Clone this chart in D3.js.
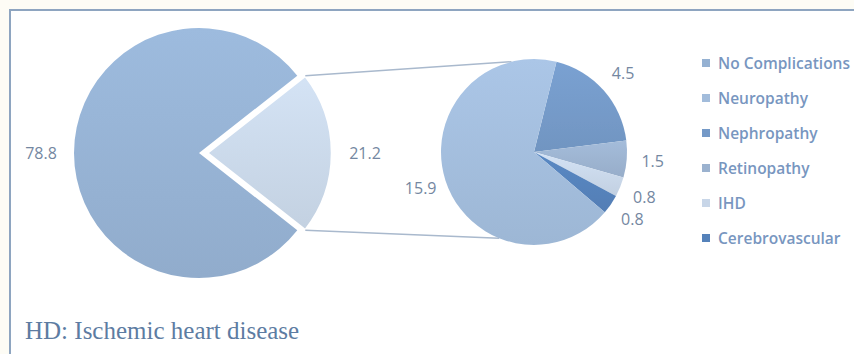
<!DOCTYPE html>
<html>
<head>
<meta charset="utf-8">
<script src="https://cdn.jsdelivr.net/npm/d3@7"></script>
<style>
  html, body { margin: 0; padding: 0; background: #fdfcf5; }
  svg { display: block; }
</style>
</head>
<body>
<div id="chart"></div>
<script>
// primary pie: share with / without complications
const primaryLabels = ["No Complications", "Complications"];
const primaryValues = [78.8, 21.2];

// secondary pie: breakdown of the complications slice (clockwise from top-right)
const secondaryLabels = ["Nephropathy", "Retinopathy", "IHD", "Cerebrovascular", "Neuropathy"];
const secondaryValues = [4.5, 1.5, 0.8, 0.8, 15.9];

const legendLabels = ["No Complications", "Neuropathy", "Nephropathy", "Retinopathy", "IHD", "Cerebrovascular"];
const footnote = "HD: Ischemic heart disease";

const width = 854, height = 354;

const color = d3.scaleOrdinal()
    .domain(["No Complications", "Complications", "Neuropathy", "Nephropathy", "Retinopathy", "IHD", "Cerebrovascular"])
    .range(["#95b1d2", "#c9d7e8", "#a2bcdb", "#7499c7", "#9bb2cf", "#c8d6e8", "#5582ba"]);

const svg = d3.select("#chart")
    .append("svg")
    .attr("width", width)
    .attr("height", height);

const defs = svg.append("defs");

defs.append("filter")
    .attr("id", "soft")
    .append("feGaussianBlur")
    .attr("stdDeviation", 0.7);

// gentle top-to-bottom shading like the original
color.domain().forEach((k, i) => {
    const c = color(k);
    const g = defs.append("linearGradient")
        .attr("id", "grad" + i)
        .attr("x1", 0).attr("y1", 0).attr("x2", 0).attr("y2", 1);
    g.append("stop").attr("offset", "0%").attr("stop-color", d3.color(c).brighter(0.15));
    g.append("stop").attr("offset", "100%").attr("stop-color", d3.color(c).darker(0.08));
});
const fill = k => `url(#grad${color.domain().indexOf(k)})`;

// frame
svg.append("rect")
    .attr("x", 10).attr("y", 10)
    .attr("width", width + 20).attr("height", height + 20)
    .attr("fill", "#ffffff")
    .attr("stroke", "#8ea5c0")
    .attr("stroke-width", 2);

// ---- primary pie
const pc = { x: 199, y: 153 }, pr = 125, explode = 8;
const primaryTotal = d3.sum(primaryValues);
const pStart = Math.PI / 2 + Math.PI * primaryValues[1] / primaryTotal;

const pie1 = d3.pie().sort(null)
    .startAngle(pStart).endAngle(pStart + 2 * Math.PI);
const arcs1 = pie1(primaryValues).map((a, i) => Object.assign(a, { label: primaryLabels[i] }));

const arc1 = d3.arc().innerRadius(0).outerRadius(pr);

const gPie1 = svg.append("g")
    .attr("transform", `translate(${pc.x},${pc.y})`)
    .attr("filter", "url(#soft)");

const offset = a => {
    if (a.label !== "Complications") return [0, 0];
    const m = (a.startAngle + a.endAngle) / 2;
    return [Math.sin(m) * explode, -Math.cos(m) * explode];
};

gPie1.selectAll("path")
    .data(arcs1)
    .enter().append("path")
    .attr("d", arc1)
    .attr("transform", d => `translate(${offset(d)})`)
    .attr("fill", d => fill(d.label))
    .attr("stroke", "#ffffff")
    .attr("stroke-width", d => d.label === "Complications" ? 2.5 : 0);

// ---- secondary pie
const sc = { x: 534, y: 152 }, sr = 93;
const sStart = 14 * Math.PI / 180;
const pie2 = d3.pie().sort(null)
    .startAngle(sStart).endAngle(sStart + 2 * Math.PI);
const arcs2 = pie2(secondaryValues).map((a, i) => Object.assign(a, { label: secondaryLabels[i] }));
const arc2 = d3.arc().innerRadius(0).outerRadius(sr);

// connector lines from exploded slice corners to secondary pie
const exp = arcs1.find(d => d.label === "Complications");
const eo = offset(exp);
const corner = ang => [pc.x + eo[0] + Math.sin(ang) * pr, pc.y + eo[1] - Math.cos(ang) * pr];
const onSmall = deg => {
    const a = deg * Math.PI / 180;
    return [sc.x + Math.sin(a) * sr, sc.y - Math.cos(a) * sr];
};
const connectors = [
    [corner(exp.startAngle), onSmall(-14)],
    [corner(exp.endAngle), onSmall(202)]
];
svg.append("g").selectAll("line")
    .data(connectors)
    .enter().append("line")
    .attr("x1", d => d[0][0]).attr("y1", d => d[0][1])
    .attr("x2", d => d[1][0]).attr("y2", d => d[1][1])
    .attr("stroke", "#a9b9cd")
    .attr("stroke-width", 1.5);

const gPie2 = svg.append("g")
    .attr("transform", `translate(${sc.x},${sc.y})`)
    .attr("filter", "url(#soft)");

gPie2.selectAll("path")
    .data(arcs2)
    .enter().append("path")
    .attr("d", arc2)
    .attr("fill", d => fill(d.label));

// ---- value labels
const labelStyle = sel => sel
    .attr("text-anchor", "middle")
    .attr("dominant-baseline", "central")
    .attr("font-family", "'Open Sans', sans-serif")
    .attr("font-size", 16)
    .attr("fill", "#7487a1");

const lab1 = d3.arc().innerRadius(pr + 33).outerRadius(pr + 33);
svg.append("g")
    .attr("transform", `translate(${pc.x},${pc.y})`)
    .selectAll("text")
    .data(arcs1)
    .enter().append("text")
    .attr("transform", d => {
        const c = lab1.centroid(d), o = offset(d);
        return `translate(${c[0] + o[0]},${c[1] + o[1]})`;
    })
    .text(d => d.value.toFixed(1))
    .call(labelStyle);

const lab2 = d3.arc().innerRadius(sr + 26).outerRadius(sr + 26);
svg.append("g")
    .attr("transform", `translate(${sc.x},${sc.y})`)
    .selectAll("text")
    .data(arcs2)
    .enter().append("text")
    .attr("transform", d => `translate(${lab2.centroid(d)})`)
    .text(d => d.value.toFixed(1))
    .call(labelStyle);

// ---- legend
const legend = svg.append("g")
    .attr("transform", "translate(702,63)")
    .selectAll("g")
    .data(legendLabels)
    .enter().append("g")
    .attr("transform", (d, i) => `translate(0,${i * 35})`);

legend.append("rect")
    .attr("x", 0).attr("y", -4)
    .attr("width", 8).attr("height", 8)
    .attr("fill", d => color(d));

legend.append("text")
    .attr("x", 16)
    .attr("dominant-baseline", "central")
    .attr("font-family", "'Open Sans', sans-serif")
    .attr("font-size", 15.5)
    .attr("font-weight", 600)
    .attr("fill", "#7896bf")
    .text(d => d);

// ---- footnote
svg.append("text")
    .attr("x", 25).attr("y", 339)
    .attr("font-family", "'Liberation Serif', 'Times New Roman', serif")
    .attr("font-size", 25)
    .attr("fill", "#5d7ca2")
    .text(footnote);
</script>
</body>
</html>
